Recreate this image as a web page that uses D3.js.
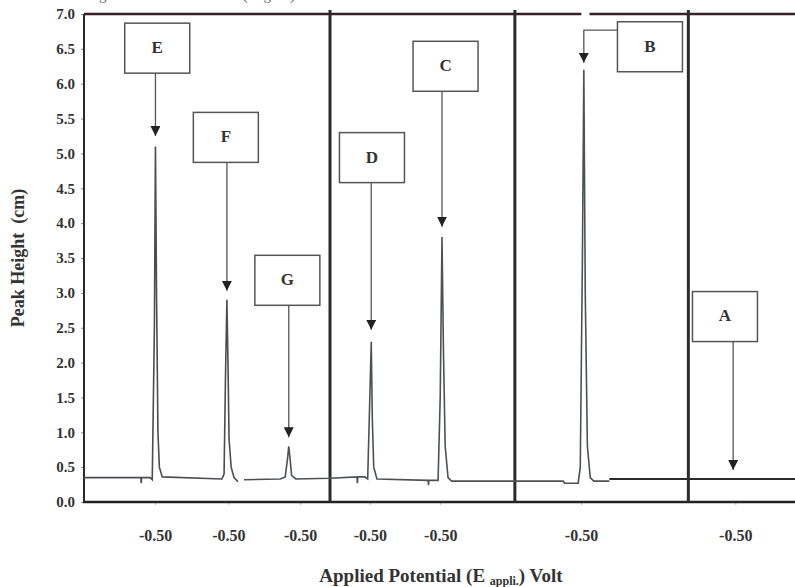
<!DOCTYPE html>
<html>
<head>
<meta charset="utf-8">
<script src="https://cdn.jsdelivr.net/npm/d3@7"></script>
<style>
  body { margin: 0; background: #fff; }
  svg { display: block; font-family: "Liberation Serif", "DejaVu Serif", serif; }
</style>
</head>
<body>
<svg id="chart" width="795" height="587"></svg>
<script>
// scan position runs 0-100 across the plot, peak height in cm
var yTicks = [0, 0.5, 1, 1.5, 2, 2.5, 3, 3.5, 4, 4.5, 5, 5.5, 6, 6.5, 7];
var xTickPos = [10.0, 20.3, 30.4, 40.2, 50.1, 69.9, 91.6];
var xTickLabels = ["-0.50", "-0.50", "-0.50", "-0.50", "-0.50", "-0.50", "-0.50"];
var separators = [34.6, 60.6, 85.0];

var peakNames = ["E", "F", "G", "D", "C", "B", "A"];
var peakPos = [10.05, 20.1, 28.8, 40.4, 50.35, 70.3, 91.3];
var peakHeight = [5.1, 2.9, 0.8, 2.3, 3.8, 6.2, 0.33];

// traces, [position, height]
var traceEF = [
    [0, 0.35], [8.0, 0.35], [8.05, 0.27], [8.1, 0.35], [9.3, 0.35], [9.6, 0.32],
    [9.9, 2.5], [10.05, 5.1], [10.2, 3.0], [10.4, 1.0], [10.6, 0.5], [11.0, 0.36],
    [19.4, 0.33], [19.7, 0.4], [19.9, 1.8], [20.1, 2.9], [20.25, 2.0], [20.4, 0.9],
    [20.7, 0.5], [21.1, 0.35], [21.66, 0.29]
];
var traceGDCB = [
    [22.5, 0.32], [27.6, 0.33], [28.3, 0.36], [28.6, 0.6], [28.8, 0.8], [29.0, 0.6],
    [29.2, 0.38], [29.8, 0.33], [34.6, 0.34], [38.4, 0.36], [38.45, 0.27], [38.5, 0.36],
    [39.5, 0.36], [39.9, 0.33], [40.2, 1.5], [40.4, 2.3], [40.55, 1.2], [40.75, 0.5],
    [41.2, 0.33], [48.4, 0.31], [48.45, 0.24], [48.5, 0.31], [49.8, 0.31], [50.1, 1.5],
    [50.35, 3.8], [50.55, 2.2], [50.8, 0.8], [51.2, 0.35], [51.7, 0.30], [67.4, 0.30],
    [67.6, 0.27], [69.5, 0.27], [69.8, 0.5], [70.1, 3.5], [70.3, 6.2], [70.5, 3.0],
    [70.8, 0.8], [71.2, 0.35], [71.7, 0.30], [73.9, 0.30]
];
var traceA = [[73.9, 0.33], [100, 0.33]];

var svg = d3.select("#chart");
var margin = {left: 84, right: 0, top: 14, bottom: 85};
var width = +svg.attr("width"), height = +svg.attr("height");

var x = d3.scaleLinear().domain([0, 100]).range([margin.left, width - margin.right]);
var y = d3.scaleLinear().domain([0, 7]).range([height - margin.bottom, margin.top]);

// caption of the page above, cut off by the crop
svg.append("text")
    .attr("x", 30).attr("y", 0)
    .attr("font-size", 15).attr("fill", "#666")
    .attr("textLength", 265)
    .text("voltammogram of the mixture (Fig. 3)");

// y axis
var yAxis = svg.append("g")
    .attr("transform", "translate(" + margin.left + ",0)")
    .call(d3.axisLeft(y).tickValues(yTicks).tickFormat(d3.format(".1f")).tickSize(3).tickPadding(6));
yAxis.select(".domain").remove();
yAxis.selectAll("text").attr("font-size", 15).attr("font-weight", "bold").attr("fill", "#333")
    .attr("font-family", "Liberation Serif");
yAxis.selectAll("line").attr("stroke", "#888");

// x axis
var xAxis = svg.append("g")
    .attr("transform", "translate(0," + y(0) + ")")
    .call(d3.axisBottom(x).tickValues(xTickPos)
        .tickFormat(function (d, i) { return xTickLabels[i]; })
        .tickSize(3).tickPadding(25));
xAxis.select(".domain").remove();
xAxis.selectAll("text").attr("font-size", 16).attr("font-weight", "bold").attr("fill", "#333")
    .attr("font-family", "Liberation Serif");
xAxis.selectAll("line").attr("stroke", "#bbb");

// frame
svg.append("line")
    .attr("x1", x(0)).attr("x2", x(100)).attr("y1", y(7)).attr("y2", y(7))
    .attr("stroke", "#3b1f26").attr("stroke-width", 2.5);
svg.append("line")
    .attr("x1", x(69.95)).attr("x2", x(71.1)).attr("y1", y(7)).attr("y2", y(7))
    .attr("stroke", "#fff").attr("stroke-width", 4);
svg.append("line")
    .attr("x1", x(0)).attr("x2", x(0)).attr("y1", y(7)).attr("y2", y(0))
    .attr("stroke", "#2a2a2a").attr("stroke-width", 2);
svg.append("line")
    .attr("x1", x(0) - 1).attr("x2", x(100)).attr("y1", y(0)).attr("y2", y(0))
    .attr("stroke", "#222").attr("stroke-width", 2.5);

svg.selectAll(".sep")
    .data(separators)
    .enter().append("line")
    .attr("class", "sep")
    .attr("x1", function (d) { return x(d); })
    .attr("x2", function (d) { return x(d); })
    .attr("y1", y(7) - 4).attr("y2", y(0))
    .attr("stroke", "#2b2b2b").attr("stroke-width", 3);

// traces
var line = d3.line()
    .x(function (d) { return x(d[0]); })
    .y(function (d) { return y(d[1]); });

svg.append("path").datum(traceEF)
    .attr("d", line).attr("fill", "none")
    .attr("stroke", "#4f4a55").attr("stroke-width", 1.6);
svg.append("path").datum(traceGDCB)
    .attr("d", line).attr("fill", "none")
    .attr("stroke", "#4d5250").attr("stroke-width", 1.6);
svg.append("path").datum(traceA)
    .attr("d", line).attr("fill", "none")
    .attr("stroke", "#2a2a2a").attr("stroke-width", 2.2);

// labelled boxes with arrows; box centre given in axis units
var boxes = [
    {bx: 10.3, by: 6.51, tip: 5.25},
    {bx: 19.95, by: 5.23, tip: 3.03},
    {bx: 28.6, by: 3.18, tip: 0.93},
    {bx: 40.5, by: 4.94, tip: 2.47},
    {bx: 50.85, by: 6.25, tip: 3.95},
    {bx: 79.6, by: 6.53, tip: 6.3, elbow: 6.77},
    {bx: 90.15, by: 2.66, tip: 0.46}
];
var boxW = 65, boxH = 50;

svg.append("defs").append("marker")
    .attr("id", "head")
    .attr("viewBox", "0 0 10 10")
    .attr("refX", 10).attr("refY", 5)
    .attr("markerWidth", 10).attr("markerHeight", 10)
    .attr("markerUnits", "userSpaceOnUse")
    .attr("orient", "auto")
    .append("path").attr("d", "M0,0L10,5L0,10Z").attr("fill", "#222");

var ann = svg.selectAll(".ann")
    .data(boxes)
    .enter().append("g")
    .attr("class", "ann");

ann.append("path")
    .attr("fill", "none")
    .attr("stroke", "#555").attr("stroke-width", 1.3)
    .attr("marker-end", "url(#head)")
    .attr("d", function (d, i) {
        var px = x(peakPos[i]);
        if (d.elbow !== undefined) {
            return "M" + (x(d.bx) - boxW / 2) + "," + y(d.elbow) +
                "H" + px + "V" + y(d.tip);
        }
        return "M" + px + "," + (y(d.by) + boxH / 2) + "V" + y(d.tip);
    });

ann.append("rect")
    .attr("x", function (d) { return x(d.bx) - boxW / 2; })
    .attr("y", function (d) { return y(d.by) - boxH / 2; })
    .attr("width", boxW).attr("height", boxH)
    .attr("fill", "#fff")
    .attr("stroke", "#555").attr("stroke-width", 1.5);

ann.append("text")
    .attr("x", function (d) { return x(d.bx); })
    .attr("y", function (d) { return y(d.by) + 1; })
    .attr("text-anchor", "middle")
    .attr("dominant-baseline", "middle")
    .attr("font-size", 17).attr("font-weight", "bold").attr("fill", "#333")
    .text(function (d, i) { return peakNames[i]; });

// axis titles
svg.append("text")
    .attr("transform", "translate(24," + ((y(0) + y(7)) / 2) + ") rotate(-90)")
    .attr("text-anchor", "middle")
    .attr("font-size", 18).attr("font-weight", "bold").attr("fill", "#333")
    .style("white-space", "pre")
    .text("Peak Height  (cm)");

var xt = svg.append("text")
    .attr("x", 441).attr("y", 582)
    .attr("text-anchor", "middle")
    .attr("font-size", 19).attr("font-weight", "bold").attr("fill", "#333");
xt.append("tspan").text("Applied Potential (E ");
xt.append("tspan").attr("font-size", 12).attr("dy", 3).text("appli.");
xt.append("tspan").attr("dy", -3).text(") Volt");
</script>
</body>
</html>
